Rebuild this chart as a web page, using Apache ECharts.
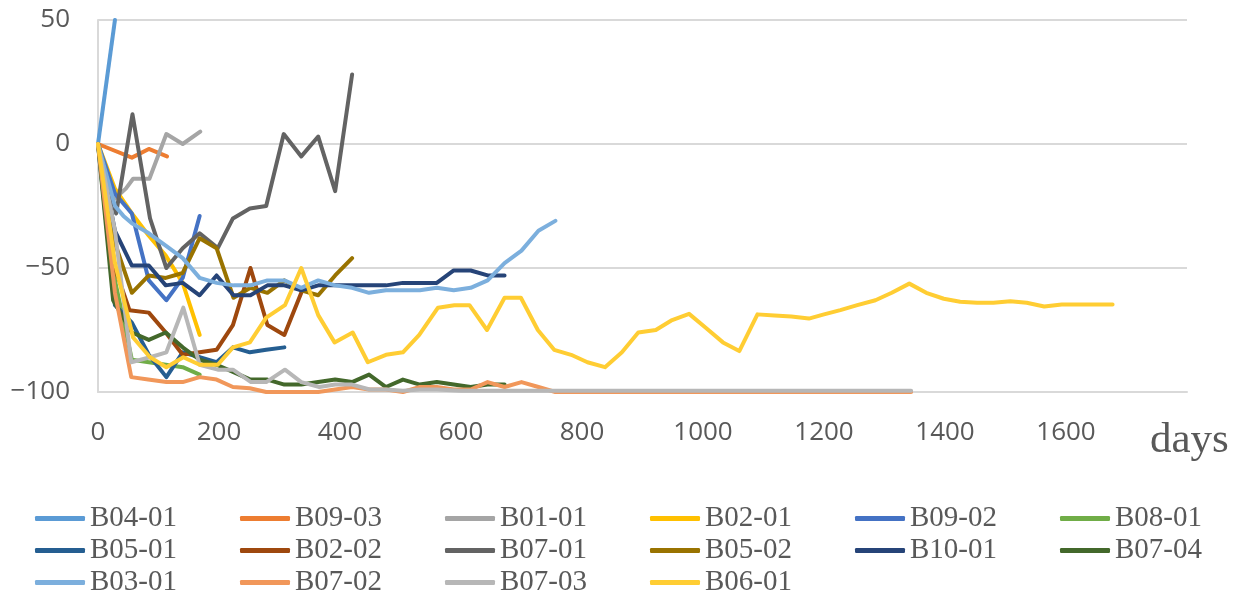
<!DOCTYPE html>
<html>
<head>
<meta charset="utf-8">
<script src="https://cdn.jsdelivr.net/npm/echarts@6/dist/echarts.min.js"></script>
<style>
html,body{margin:0;padding:0;background:#fff;}
#chart{width:1245px;height:598px;}
</style>
</head>
<body>
<div id="chart"></div>
<script>
const seriesNames = ['B04-01','B09-03','B01-01','B02-01','B09-02','B08-01',
                     'B05-01','B02-02','B07-01','B05-02','B10-01','B07-04',
                     'B03-01','B07-02','B07-03','B06-01'];
const colors = ['#5b9bd5','#ed7d31','#a5a5a5','#ffc000','#4472c4','#70ad47',
                '#255e91','#9e480e','#636363','#997300','#264478','#43682b',
                '#7cafdd','#f1975a','#b7b7b7','#ffcd33'];
const xTicks = [0,200,400,600,800,1000,1200,1400,1600];
const yTicks = [-100,-50,0,50];

const b0401 = [[0,0],[28,50]];
const b0903 = [[0,0],[56,-5.5],[84,-2],[114,-5]];
const b0101 = [[0,0],[28,-22],[46,-18],[58,-14],[85,-14],[113,4],[140,0],[169,5]];
const b0201 = [[0,0],[28,-18],[56,-28],[84,-37],[112,-45],[140,-56],[168,-77]];
const b0902 = [[0,0],[28,-20],[56,-28],[84,-55],[113,-63],[140,-54],[168,-29]];
const b0801 = [[0,0],[28,-55],[56,-87],[84,-88],[112,-89],[140,-90],[168,-93]];
const b0501 = [[0,0],[28,-65],[56,-72],[84,-85],[113,-94],[140,-84],[168,-86],[196,-88],[223,-82],[251,-84],[278,-83],[308,-82]];
const b0202 = [[0,0],[28,-50],[52,-67],[84,-68],[112,-76],[140,-85],[168,-84],[196,-83],[223,-73],[252,-50],[280,-73],[308,-77],[336,-60]];
const b0701 = [[0,0],[30,-28],[57,12],[86,-30],[113,-50],[140,-42],[168,-36],[198,-42],[223,-30],[251,-26],[278,-25],[307,4],[336,-5],[364,3],[392,-19],[420,28]];
const b0502 = [[0,0],[28,-40],[56,-60],[84,-53],[112,-54],[140,-52],[168,-38],[196,-42],[224,-62],[252,-58],[280,-60],[308,-55],[336,-59],[364,-61],[392,-53],[420,-46]];
const b1001 = [[0,0],[28,-35],[56,-49],[84,-49],[112,-57],[140,-56],[168,-61],[196,-53],[224,-61],[252,-61],[280,-57],[308,-57],[336,-59],[364,-57],[392,-57],[420,-57],[448,-57],[476,-57],[504,-56],[532,-56],[560,-56],[588,-51],[616,-51],[644,-53],[672,-53]];
const b0704 = [[0,0],[25,-63],[56,-76],[84,-79],[112,-76],[140,-82],[168,-87],[196,-89],[224,-92],[252,-95],[280,-95],[308,-97],[336,-97],[364,-96],[392,-95],[420,-96],[448,-93],[476,-98],[504,-95],[532,-97],[560,-96],[588,-97],[616,-98],[644,-97],[672,-97]];
const b0301 = [[0,0],[28,-25],[42,-29],[56,-32],[84,-36],[112,-41],[140,-46],[168,-54],[196,-56],[224,-57],[252,-57],[280,-55],[308,-55],[336,-58],[364,-55],[392,-57],[420,-58],[448,-60],[476,-59],[504,-59],[532,-59],[560,-58],[588,-59],[616,-58],[644,-55],[672,-48],[700,-43],[728,-35],[756,-31]];
const b0702 = [[0,0],[28,-60],[55,-94],[83,-95],[113,-96],[140,-96],[168,-94],[196,-95],[223,-98],[251,-98.5],[278,-100],[308,-100],[336,-100],[364,-100],[392,-99],[420,-98],[448,-99],[476,-99],[504,-100],[532,-98],[560,-98],[588,-99],[616,-99],[644,-96],[672,-98],[700,-96],[728,-98],[756,-100],[800,-100],[900,-100],[1000,-100],[1100,-100],[1200,-100],[1300,-100],[1344,-100]];
const b0703 = [[0,0],[28,-35],[55,-88],[86,-86],[113,-84],[141,-66],[168,-89],[198,-91],[223,-91],[253,-96],[278,-96],[309,-91],[336,-96],[366,-98],[392,-97],[420,-97],[449,-99],[476,-99],[504,-99.5],[532,-99],[560,-99],[600,-99.5],[700,-99.5],[800,-99.5],[900,-99.5],[1000,-99.5],[1100,-99.5],[1200,-99.5],[1344,-99.5]];
const b0601 = [[0,0],[28,-48],[58,-78],[86,-86],[113,-90],[141,-86],[168,-89],[198,-89],[223,-82],[251,-80],[278,-70],[309,-65],[336,-50],[364,-69],[391,-80],[421,-76],[446,-88],[476,-85],[504,-84],[531,-77],[562,-66],[589,-65],[614,-65],[643,-75],[672,-62],[699,-62],[727,-75],[754,-83],[782,-85],[809,-88],[838,-90],[866,-84],[893,-76],[922,-75],[949,-71],[977,-68.5],[1004,-74],[1033,-80],[1060,-83.5],[1090,-68.7],[1118,-69.2],[1146,-69.6],[1175,-70.4],[1200,-68.7],[1227,-67],[1255,-65],[1285,-63],[1312,-60],[1341,-56.3],[1369,-60],[1398,-62.4],[1425,-63.6],[1453,-64],[1480,-64],[1508,-63.4],[1535,-64],[1564,-65.5],[1593,-64.7],[1620,-64.7],[1648,-64.7],[1677,-64.7]];

const allData = [b0401,b0903,b0101,b0201,b0902,b0801,b0501,b0202,b0701,b0502,b1001,b0704,b0301,b0702,b0703,b0601];

const chart = echarts.init(document.getElementById('chart'), null, {renderer:'canvas'});

const series = seriesNames.map((n,i)=>({
  name:n, type:'line', data:allData[i], symbol:'none', showSymbol:false, clip:true,
  lineStyle:{color:colors[i], width:4, cap:'round', join:'round'},
  itemStyle:{color:colors[i]}
}));

const legendText = {fontFamily:'Liberation Serif', fontSize:29, color:'#595959'};
function legendRow(names, top){
  return {data:names, left:35, top:top, orient:'horizontal', icon:'roundRect', itemWidth:50, itemHeight:5, itemGap:63,
          textStyle:legendText, selectedMode:false, padding:0};
}

const option = {
  animation:false,
  backgroundColor:'#fff',
  grid:{left:98, right:58, top:20, bottom:206, containLabel:false},
  xAxis:{type:'value', min:0, max:1800, interval:200,
    axisLine:{show:true, onZero:false, lineStyle:{color:'#d9d9d9', width:2}},
    axisTick:{show:false}, splitLine:{show:false},
    axisLabel:{showMaxLabel:false, fontFamily:'Open Sans', fontSize:26, color:'#595959', margin:28,
      formatter:v=> xTicks.indexOf(v)>=0 ? String(v) : ''}},
  yAxis:{type:'value', min:-100, max:50, interval:50,
    axisLine:{show:true, lineStyle:{color:'#d9d9d9', width:2}},
    axisTick:{show:false},
    splitLine:{show:true, lineStyle:{color:'#d9d9d9', width:2}},
    axisLabel:{fontFamily:'Open Sans', fontSize:26, color:'#595959', margin:28,
      formatter:v=> yTicks.indexOf(v)>=0 ? String(v).replace('-', '\u2212') : ''}},
  legend:[
    legendRow(seriesNames.slice(0,6), 504),
    legendRow(seriesNames.slice(6,12), 536),
    legendRow(seriesNames.slice(12,16), 568)
  ],
  graphic:[{type:'text', left:1150, top:419,
    style:{text:'days', font:'43px "Liberation Serif"', fill:'#595959'}}],
  series:series
};
chart.setOption(option);
</script>
</body>
</html>
